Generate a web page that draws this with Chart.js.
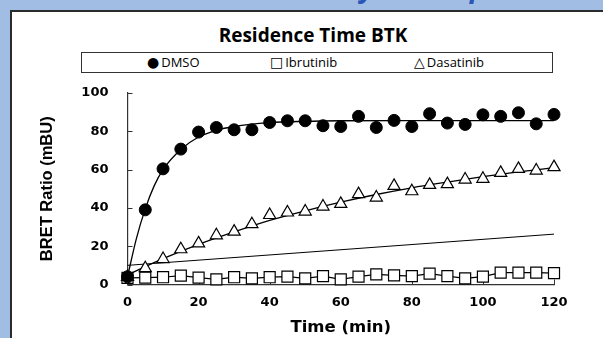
<!DOCTYPE html>
<html>
<head>
<meta charset="utf-8">
<script src="https://cdn.jsdelivr.net/npm/chart.js@4.4.0/dist/chart.umd.min.js"></script>
<style>
  html, body { margin:0; padding:0; }
  body { width:603px; height:338px; overflow:hidden; background:#a2bde3; position:relative; font-family:'Open Sans', sans-serif; }
  .cut { position:absolute; top:-28px; font:italic bold 28px/28px 'Open Sans', sans-serif; color:#2a56b8; }
  .panel { position:absolute; left:10px; top:10px; right:-4px; bottom:-4px; background:#fff; border:2px solid #2b2b2b; }
  .title { position:absolute; left:0; width:626px; top:22px; text-align:center; font:bold 19px 'Open Sans', sans-serif; color:#000; }
  .legend { position:absolute; left:81px; top:52px; width:470px; height:19px; border:1px solid #333; font:13px 'Open Sans', sans-serif; color:#000; }
  .legend span { position:absolute; top:0; line-height:19px; white-space:nowrap; }
  .legend b { font-family:'DejaVu Sans', sans-serif; font-weight:normal; font-size:14px; margin-right:2px; }
  canvas { position:absolute; left:0; top:0; }
</style>
</head>
<body>
<span class="cut" style="left:360px">y</span>
<span class="cut" style="left:470px">p</span>
<div class="panel"></div>
<div class="title">Residence Time BTK</div>
<div class="legend">
  <span style="left:65px"><b>●</b>DMSO</span>
  <span style="left:188px"><b>□</b>Ibrutinib</span>
  <span style="left:332px"><b>△</b>Dasatinib</span>
</div>
<canvas id="c" width="603" height="338"></canvas>
<script>
// sampling times (min)
const times = [0, 5, 10, 15, 20, 25, 30, 35, 40, 45, 50, 55, 60, 65, 70, 75, 80, 85, 90, 95, 100, 105, 110, 115, 120];
// BRET ratio (mBU)
const dmso      = [4, 39, 60.4, 70.7, 79.6, 82, 80.8, 80.8, 84.6, 85.5, 85.5, 82.9, 82.5, 87.8, 82, 85.7, 82.5, 89.2, 84.3, 83.6, 88.6, 87.8, 89.7, 83.9, 88.8];
const ibrutinib = [3.5, 3.6, 3.8, 4.6, 3.6, 2.7, 3.8, 3.2, 3.8, 4.1, 3.2, 4.4, 2.7, 4.1, 5.3, 4.8, 4.4, 5.7, 4.4, 3.2, 4.1, 6.2, 6.2, 6.2, 5.9];
const dasatinib = [4, 8.5, 13.3, 18.4, 21.5, 25.7, 27.6, 31.5, 36.3, 37.6, 38.1, 40.7, 42.1, 47.2, 45.4, 51.5, 48.7, 52, 52.4, 54.8, 55.2, 58.3, 60.4, 59.5, 61.3];

// fitted curves
const dmsoFitTimes = [0, 2.5, 5, 7.5, 10, 15, 20, 25, 30, 40, 50, 60, 80, 100, 120];
const dmsoFit      = [4, 24, 39.5, 51.5, 60, 70.5, 77, 80.5, 82.5, 84.5, 85.2, 85.5, 85.6, 85.6, 85.6];
const dasFitTimes  = [0, 10, 20, 30, 40, 50, 60, 70, 80, 90, 100, 110, 120];
const dasFit       = [5, 13.5, 21, 27.5, 33.5, 38.5, 43, 47, 50.5, 53.5, 56.3, 58.8, 61];
const refTimes     = [0, 120];
const refLine      = [10, 26.3];

const xTicks = [0, 20, 40, 60, 80, 100, 120];
const yTicks = [0, 20, 40, 60, 80, 100];

const pts = (xs, ys) => xs.map((x, i) => ({ x, y: ys[i] }));

// small tick marks pointing into the plot
const innerTicks = {
  id: 'innerTicks',
  beforeDatasetsDraw(chart) {
    const { ctx, scales: { x, y } } = chart;
    ctx.save();
    ctx.strokeStyle = '#333';
    ctx.lineWidth = 1;
    ctx.beginPath();
    xTicks.forEach(v => { const px = Math.round(x.getPixelForValue(v)) + 0.5; ctx.moveTo(px, y.bottom); ctx.lineTo(px, y.bottom - 5); });
    yTicks.forEach(v => { const py = Math.round(y.getPixelForValue(v)) + 0.5; ctx.moveTo(x.left, py); ctx.lineTo(x.left + 5, py); });
    ctx.stroke();
    ctx.restore();
  }
};

new Chart(document.getElementById('c'), {
  type: 'scatter',
  data: {
    datasets: [
      { data: pts(times, dmso), pointStyle: 'circle', pointRadius: 6, backgroundColor: '#000', borderColor: '#000', borderWidth: 1, showLine: false },
      { data: pts(times, dasatinib), pointStyle: 'triangle', pointRadius: 7, backgroundColor: '#fff', borderColor: '#000', borderWidth: 1.2, showLine: false },
      { data: pts(times, ibrutinib), pointStyle: 'rect', pointRadius: 7.8, backgroundColor: '#fff', borderColor: '#000', borderWidth: 1.2, showLine: true },
      { data: pts(dmsoFitTimes, dmsoFit), showLine: true, pointRadius: 0, borderColor: '#000', borderWidth: 1.3, cubicInterpolationMode: 'monotone' },
      { data: pts(dasFitTimes, dasFit), showLine: true, pointRadius: 0, borderColor: '#000', borderWidth: 1.3, cubicInterpolationMode: 'monotone' },
      { data: pts(refTimes, refLine), showLine: true, pointRadius: 0, borderColor: '#000', borderWidth: 1 }
    ]
  },
  options: {
    responsive: false,
    animation: false,
    layout: { padding: { top: 93, right: 49, left: 0, bottom: 0 } },
    plugins: { legend: { display: false }, tooltip: { enabled: false } },
    clip: false,
    scales: {
      x: {
        type: 'linear', min: 0, max: 120,
        afterFit(s) { s.height = 53.5; },
        grid: { display: false, drawTicks: false },
        border: { display: true, color: '#333', width: 1.2 },
        afterBuildTicks(s) { s.ticks = xTicks.map(v => ({ value: v })); },
        ticks: { color: '#000', padding: 10, font: { family: 'DejaVu Sans', weight: 'bold', size: 13 } },
        title: { display: true, text: 'Time (min)', color: '#000', padding: { top: 3, bottom: 0 }, font: { family: 'DejaVu Sans', weight: 'bold', size: 16.5 } }
      },
      y: {
        min: 0, max: 100,
        afterFit(s) { s.width = 127.5; },
        grid: { display: false, drawTicks: false },
        border: { display: true, color: '#333', width: 1.2 },
        afterBuildTicks(s) { s.ticks = yTicks.map(v => ({ value: v })); },
        ticks: { color: '#000', padding: 19, font: { family: 'DejaVu Sans', weight: 'bold', size: 13 } },
        title: { display: true, text: 'BRET Ratio (mBU)', color: '#000', padding: { top: 38, bottom: 0 }, font: { family: 'Liberation Sans', weight: 'bold', size: 16.5 } }
      }
    }
  },
  plugins: [innerTicks]
});
</script>
</body>
</html>
